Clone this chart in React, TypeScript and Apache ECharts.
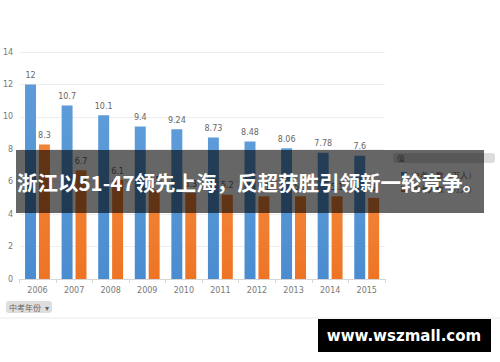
import React, { useEffect, useRef } from "react";
import * as echarts from "echarts";

const years = ["2006", "2007", "2008", "2009", "2010", "2011", "2012", "2013", "2014", "2015"];
const zhongkao = [12, 10.7, 10.1, 9.4, 9.24, 8.73, 8.48, 8.06, 7.78, 7.6];
const gaokao = [8.3, 6.7, 6.1, 5.5, 5.3, 5.2, 5.1, 5.1, 5.1, 5.0];
const seriesNames = ["中考人数（万人）", "高考人数（万人）"];
const yTicks = { min: 0, max: 14, interval: 2 };
const headline = "浙江以51-47领先上海，反超获胜引领新一轮竞争。";
const watermark = "www.wszmall.com";
const filterLabel = "中考年份";
const legendHeader = "值";

export default function App() {
  const ref = useRef<HTMLDivElement>(null);
  useEffect(() => {
    if (!ref.current) return;
    const chart = echarts.init(ref.current, null, { renderer: "svg" });
    const labelStyle = {
      show: true,
      position: "top",
      distance: 5,
      fontSize: 8,
      color: "#666",
      fontFamily: "DejaVu Sans",
    };
    chart.setOption({
      animation: false,
      backgroundColor: "#fff",
      grid: { left: 19, right: 115, top: 52, bottom: 83 },
      xAxis: {
        type: "category",
        data: years,
        axisLine: { lineStyle: { color: "#d6d6d6" } },
        axisTick: { show: true, length: 4, lineStyle: { color: "#d6d6d6" } },
        axisLabel: { fontSize: 8, color: "#777", margin: 7, fontFamily: "DejaVu Sans" },
      },
      yAxis: {
        type: "value",
        min: yTicks.min,
        max: yTicks.max,
        interval: yTicks.interval,
        axisLine: { show: false },
        axisTick: { show: false },
        splitLine: { lineStyle: { color: "#eeeeee" } },
        axisLabel: { fontSize: 8, color: "#777", margin: 6, fontFamily: "DejaVu Sans" },
      },
      legend: {
        orient: "vertical",
        left: 396,
        top: 166,
        itemWidth: 6,
        itemHeight: 6,
        itemGap: 6,
        icon: "rect",
        textStyle: { fontSize: 8, color: "#666" },
        data: seriesNames,
      },
      series: [
        {
          name: seriesNames[0],
          type: "bar",
          data: zhongkao,
          barCategoryGap: "32%",
          barGap: "27%",
          itemStyle: {
            color: new echarts.graphic.LinearGradient(0, 0, 0, 1, [
              { offset: 0, color: "#5d9cd8" },
              { offset: 1, color: "#4a8cd0" },
            ]),
          },
          label: labelStyle,
        },
        {
          name: seriesNames[1],
          type: "bar",
          data: gaokao,
          itemStyle: {
            color: new echarts.graphic.LinearGradient(0, 0, 0, 1, [
              { offset: 0, color: "#f28438" },
              { offset: 1, color: "#ee7424" },
            ]),
          },
          label: labelStyle,
        },
      ],
      graphic: [
        {
          type: "rect",
          z: 5,
          shape: { x: 393, y: 153, width: 102, height: 10, r: 3 },
          style: { fill: "#dcdcdc" },
        },
        {
          type: "text",
          z: 6,
          x: 397,
          y: 158,
          style: { text: legendHeader, fontSize: 8, fill: "#666", verticalAlign: "middle" },
        },
        {
          type: "rect",
          z: 100,
          shape: { x: 16, y: 150, width: 468, height: 63 },
          style: { fill: "rgba(0,0,0,0.6)" },
        },
        {
          type: "text",
          z: 101,
          x: 250,
          y: 182,
          style: {
            text: headline,
            fontSize: 20.5,
            fontWeight: "bold",
            fontFamily: "Noto Sans CJK SC",
            fill: "#fff",
            align: "center",
            verticalAlign: "middle",
          },
        },
        {
          type: "rect",
          z: 5,
          shape: { x: 6, y: 301, width: 46, height: 12, r: 3 },
          style: { fill: "#dedede" },
        },
        {
          type: "text",
          z: 6,
          x: 9,
          y: 307,
          style: { text: filterLabel + "  ▾", fontSize: 8, fill: "#666", verticalAlign: "middle", fontFamily: "Noto Sans CJK SC" },
        },
        {
          type: "line",
          z: 5,
          shape: { x1: 0, y1: 318, x2: 500, y2: 318 },
          style: { stroke: "#ececec", lineWidth: 1 },
        },
        {
          type: "rect",
          z: 100,
          shape: { x: 318, y: 319, width: 173, height: 33 },
          style: { fill: "#000" },
        },
        {
          type: "text",
          z: 101,
          x: 404,
          y: 336,
          style: {
            text: watermark,
            fontSize: 15,
            fontWeight: "bold",
            fontFamily: "DejaVu Sans",
            fill: "#fff",
            align: "center",
            verticalAlign: "middle",
          },
        },
      ],
    });
    return () => chart.dispose();
  }, []);
  return (
    <div
      ref={ref}
      style={{ position: "fixed", left: 0, top: 0, width: 500, height: 362 }}
    />
  );
}
